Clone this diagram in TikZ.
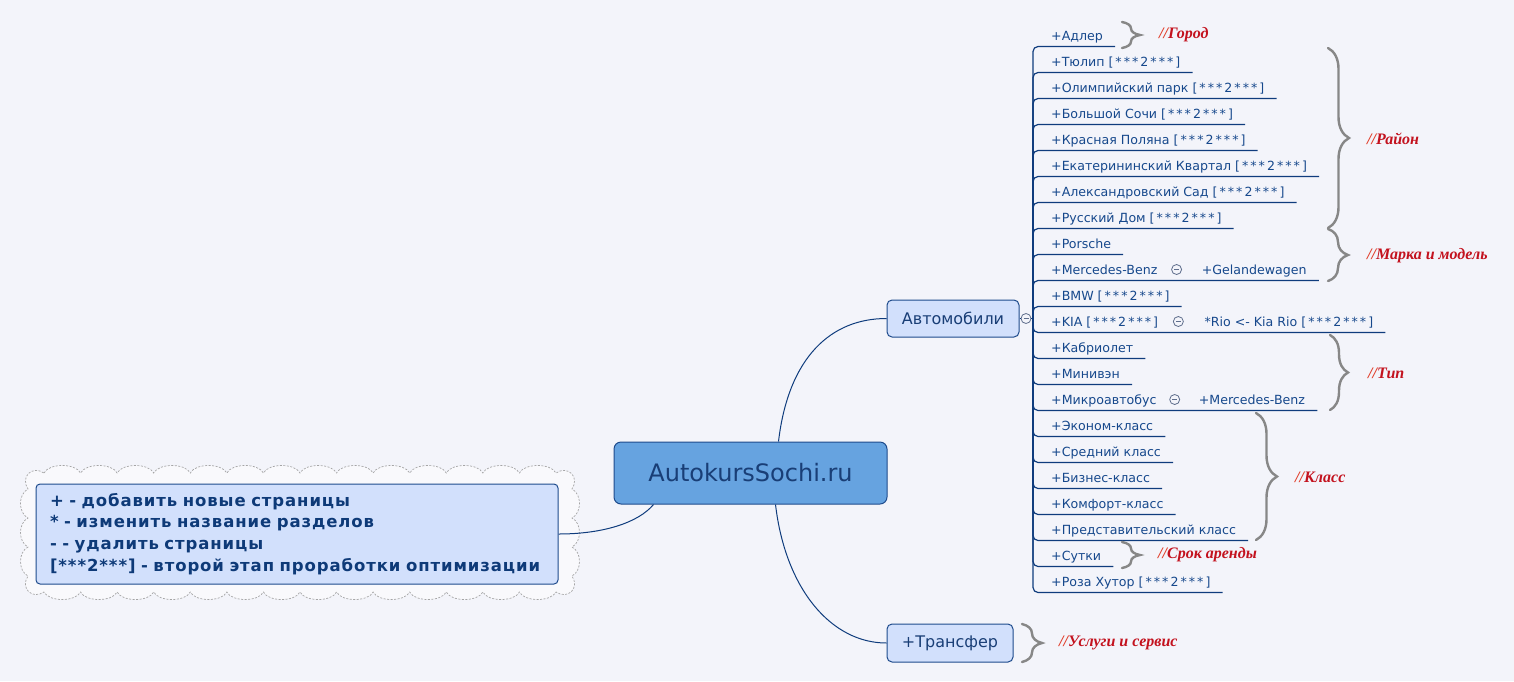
\documentclass[tikz,border=0pt]{standalone}
\usepackage{fontspec}
\setmainfont{DejaVu Sans}
\newfontfamily\notefont{Liberation Serif}
\usetikzlibrary{decorations.pathreplacing,calc,positioning}
\definecolor{bgcol}{RGB}{243,244,250}
\definecolor{leaftext}{RGB}{22,72,140}
\definecolor{linkblue}{RGB}{15,60,125}
\definecolor{boxfill}{RGB}{210,224,252}
\definecolor{boxborder}{RGB}{30,75,140}
\definecolor{boxtext}{RGB}{25,62,118}
\definecolor{rootfill}{RGB}{102,163,224}
\definecolor{legendtext}{RGB}{14,58,120}
\definecolor{notered}{RGB}{195,18,30}
\definecolor{slashred}{RGB}{225,60,40}
\definecolor{bracegray}{RGB}{135,135,135}
\definecolor{clpgray}{RGB}{95,110,140}
\definecolor{cloudgray}{RGB}{165,165,165}
\definecolor{cloudfill}{RGB}{249,249,252}
\newcommand{\leafsize}{\fontsize{12.6}{14}\selectfont}
\newcommand{\lvl}{{\addfontfeatures{LetterSpace=16}[***2***]}}
\newcommand{\notetag}[1]{{\color{slashred}//}#1}

\begin{document}
\begin{tikzpicture}[x=1pt, y=-1pt,
  leaf/.style={anchor=base west, inner sep=0pt, font=\leafsize, text=leaftext},
  branch/.style={draw=linkblue, line width=1.2pt, rounded corners=5pt},
  link/.style={draw=linkblue, line width=1pt},
  topicbox/.style={draw=boxborder, fill=boxfill, line width=1pt, rounded corners=5pt,
    text=boxtext, font=\fontsize{16}{18}\selectfont},
  rootbox/.style={draw=boxborder, fill=rootfill, line width=1pt, rounded corners=7pt,
    text=boxtext, minimum width=273pt, minimum height=62pt, font=\fontsize{24}{26}\selectfont},
  legendbox/.style={draw=boxborder, fill=boxfill, line width=1pt, rounded corners=4pt,
    minimum width=522pt, minimum height=100pt, text width=494pt, align=left, text=legendtext,
    font=\bfseries\fontsize{16.5}{21.7}\selectfont\addfontfeatures{LetterSpace=5.5}},
  cloudline/.style={draw=cloudgray, fill=cloudfill, line width=0.7pt, dash pattern=on 2pt off 1.5pt},
  collapse/.style={circle, draw=clpgray, fill=bgcol, line width=0.8pt, minimum size=10pt, inner sep=0pt,
    path picture={\draw[clpgray, line width=0.8pt] ([xshift=2.5pt]path picture bounding box.west)
      -- ([xshift=-2.5pt]path picture bounding box.east);}},
  summary/.style={draw=bracegray, line width=2.4pt, line cap=round, decorate,
    decoration={brace, amplitude=#1}},
  note/.style={anchor=west, inner sep=0pt, text=notered,
    font=\notefont\bfseries\itshape\fontsize{16}{18}\selectfont}]

\fill[bgcol] (0,0) rectangle (1514,681);
\useasboundingbox (0,0) rectangle (1514,681);

% legend in a cloud
\draw[cloudline] (44,473)
  foreach \i in {1,...,14} { .. controls +(5,-10) and +(-5,-10) .. ++(36.57,0) }
  .. controls +(12,-8) and +(8,-12) .. ++(16,16)
  foreach \i in {1,...,3} { .. controls +(10,5) and +(10,-5) .. ++(0,29) }
  .. controls +(8,12) and +(12,8) .. ++(-16,16)
  foreach \i in {1,...,14} { .. controls +(-5,10) and +(5,10) .. ++(-36.57,0) }
  .. controls +(-12,8) and +(-8,12) .. ++(-16,-16)
  foreach \i in {1,...,3} { .. controls +(-10,-5) and +(-10,5) .. ++(0,-29) }
  .. controls +(-8,-12) and +(-12,-8) .. cycle;
\node[legendbox] (legend) at (297,534) {+ - добавить новые страницы\\{*} - изменить название разделов\\- - удалить страницы\\{[}***2***] - второй этап проработки оптимизации};

% main topics
\node[rootbox] (root) at (750.5,473) {AutokursSochi.ru};
\node[topicbox, minimum width=132pt, minimum height=37pt] (auto) at (953,318.5) {Автомобили};
\node[topicbox, minimum width=126pt, minimum height=38pt] (trans) at (950,643) {+Трансфер};

\draw[link] ([xshift=28pt]root.north) .. controls +(10,-85) and +(-55,0) .. (auto.west);
\draw[link] ([xshift=25pt]root.south) .. controls +(10,85) and +(-55,0) .. (trans.west);
\draw[link] (legend.east) .. controls +(45,0) and +(-15,18) .. ([xshift=-97pt]root.south);

% pages under Автомобили
\node[collapse] (clpA) at (1026,318.5) {};
\coordinate (hub) at (1033,318.5);
\draw[branch] (auto.east) -- (clpA.west);
\draw[branch] (clpA.east) -- (hub);

\foreach \txt [count=\i from 0] in {{+Адлер}, {+Тюлип \lvl}, {+Олимпийский парк \lvl},
  {+Большой Сочи \lvl}, {+Красная Поляна \lvl}, {+Екатерининский Квартал \lvl},
  {+Александровский Сад \lvl}, {+Русский Дом \lvl}, {+Porsche}, {+Mercedes-Benz},
  {+BMW \lvl}, {+KIA \lvl}, {+Кабриолет}, {+Минивэн}, {+Микроавтобус},
  {+Эконом-класс}, {+Средний класс}, {+Бизнес-класс}, {+Комфорт-класс},
  {+Представительский класс}, {+Сутки}, {+Роза Хутор \lvl}}
  \node[leaf] (r\i) at (1051,{40+26*\i}) {\txt};

% sub pages
\node[collapse] (k9) at ([xshift=19pt, yshift=4.5pt]r9.base east) {};
\node[leaf] (s9) at ([xshift=44pt]r9.base east) {+Gelandewagen};
\node[collapse] (k11) at ([xshift=20pt, yshift=4.5pt]r11.base east) {};
\node[leaf] (s11) at ([xshift=46pt]r11.base east) {*Rio <- Kia Rio \lvl};
\node[collapse] (k14) at ([xshift=18pt, yshift=4.5pt]r14.base east) {};
\node[leaf] (s14) at ([xshift=42pt]r14.base east) {+Mercedes-Benz};

\foreach \n in {r0,r1,r2,r3,r4,r5,r6,r7,r8,s9,r10,s11,r12,r13,s14,r15,r16,r17,r18,r19,r20,r21}
  \draw[branch] (hub) |- ($(\n.base east)+(12,6.5)$);

% summaries
\foreach \x/\ya/\yb/\amp in {1122/22/48/18, 1328/48/228/21, 1328/229/281/20, 1330/335/410/18,
  1256/413/540/21, 1122/542/568/18, 1022/624/662/20}
  \draw[summary=\amp] (\x,\ya) -- (\x,\yb);

\foreach \x/\y/\txt [count=\k] in {1159/35/Город, 1367/139/Район, 1367/256/Марка и модель,
  1368/373/Тип, 1295/477/Класс, 1158/555/Срок аренды, 1059/643/Услуги и сервис}
  \node[note] (note\k) at (\x,\y) {\notetag{\txt}};

\end{tikzpicture}
\end{document}
